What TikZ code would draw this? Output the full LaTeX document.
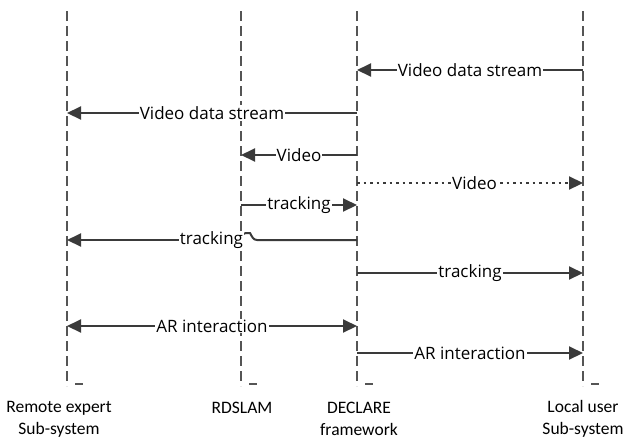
\documentclass[tikz,border=0pt]{standalone}
\usepackage{fontspec}
\setmainfont{Carlito}
\newfontfamily\lblfont{Open Sans}
\usetikzlibrary{arrows.meta}
\definecolor{lifegray}{HTML}{555555}
\definecolor{arrgray}{HTML}{3A3A3A}
\tikzset{
  lifeline/.style={draw=lifegray, line width=2.5pt, dash pattern=on 10pt off 5pt},
  endtick/.style={draw=lifegray, line width=2.5pt},
  msg/.style={draw=arrgray, line width=2pt, -{Triangle[length=14pt,width=13pt]}},
  msgdot/.style={draw=arrgray, line width=2.2pt, dash pattern=on 2.5pt off 4pt, -{Triangle[length=14pt,width=13pt]}},
  msgboth/.style={draw=arrgray, line width=2pt, {Triangle[length=14pt,width=13pt]}-{Triangle[length=14pt,width=13pt]}},
  lbl/.style={fill=white, inner sep=1pt, font=\lblfont\fontsize{17}{19}\selectfont, text=black},
  actor/.style={align=center, font=\fontsize{17.5}{22}\selectfont, text=black}
}
\begin{document}
\begin{tikzpicture}[x=1pt,y=-1pt]
\useasboundingbox (0,0) rectangle (628,440);
% lifelines
\foreach \n/\x in {R/67, S/241, D/357, L/583}{
  \coordinate (\n top) at (\x,11);
  \coordinate (\n bot) at (\x,386);
  \coordinate (\n tk) at (\x+8,384);
  \coordinate (\n tk2) at (\x+16,384);
  \draw[lifeline] (\n top) -- (\n bot);
  \draw[endtick] (\n tk) -- (\n tk2);
}
% actors
\node[actor] (ra) at (59,419) {Remote expert\\Sub-system};
\node[actor] (sa) at (242,408) {RDSLAM};
\node[actor] (da) at (359,419) {DECLARE\\framework};
\node[actor] (la) at (583,419) {Local user\\Sub-system};
% message endpoints
\foreach \n/\x in {R/67, S/241, D/357, L/583}{
  \foreach \k/\y in {1/70, 2/113, 3/155, 4/183, 5/205, 6/240, 7/273, 8/326, 9/353}{
    \coordinate (\n\k) at (\x,\y);
  }
}
\draw[msg] (L1) -- node[lbl] (m1) {Video data stream} (D1);
\draw[msg] (D2) -- node[lbl] (m2) {Video data stream} (R2);
\draw[msg] (D3) -- node[lbl] (m3) {Video} (S3);
\draw[msgdot] (D4) -- node[lbl, pos=0.52] (m4) {Video} (L4);
\draw[msg] (S5) -- node[lbl] (m5) {tracking} (D5);
% tracking with hop over RDSLAM lifeline
\coordinate (hopR) at (257,240);
\coordinate (hopL) at (235,240);
\draw[draw=arrgray, line width=2pt] (D6) -- (hopR) to[out=180,in=-60] (250,233) -- (246,233) to[out=180,in=0] (hopL);
\draw[msg] (hopL) -- node[lbl, pos=0.14] (m6) {tracking} (R6);
\draw[msg] (D7) -- node[lbl] (m7) {tracking} (L7);
\draw[msgboth] (R8) -- node[lbl] (m8) {AR interaction} (D8);
\draw[msg] (D9) -- node[lbl] (m9) {AR interaction} (L9);
\end{tikzpicture}
\end{document}
